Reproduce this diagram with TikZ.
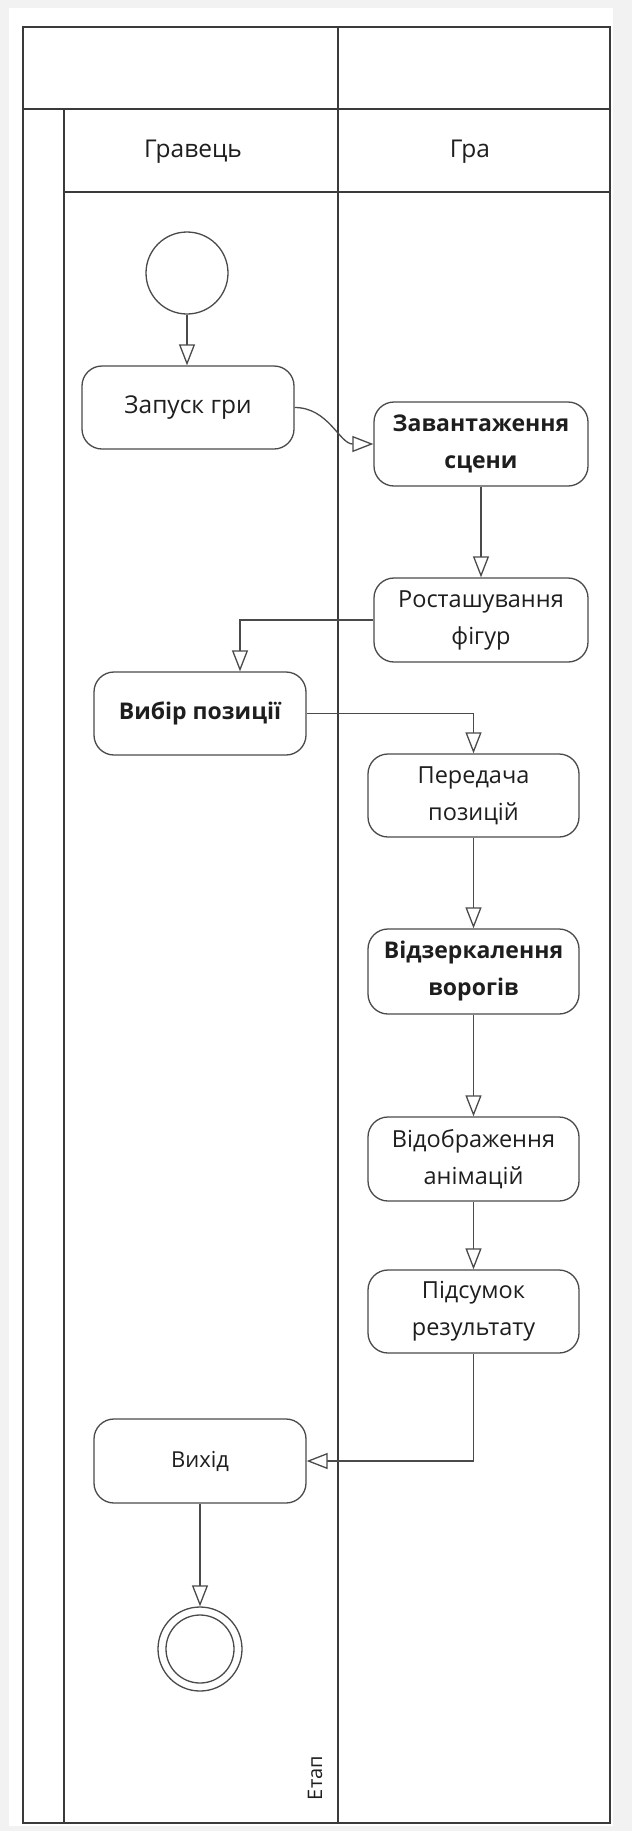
\documentclass[tikz,border=0pt]{standalone}
\usepackage{fontspec}
\setmainfont{Open Sans}
\usetikzlibrary{arrows.meta,calc}
\definecolor{bggray}{HTML}{F2F2F2}
\definecolor{linec}{HTML}{3A3A3A}
\definecolor{boxc}{HTML}{4A4A4A}
\definecolor{txt}{HTML}{1E1E1E}
\newcommand{\fsStart}{\fontsize{24.5}{37}\selectfont}
\newcommand{\fsExit}{\fontsize{22}{37}\selectfont}
\newcommand{\fsBig}{\fontsize{23.5}{37}\selectfont}
\newcommand{\fsBold}{\fontsize{23}{37}\selectfont\bfseries}
\begin{document}
\begin{tikzpicture}[x=1pt,y=-1pt,
  lane/.style={draw=linec, line width=1.4pt},
  act/.style={draw=boxc, line width=1.3pt, rounded corners=20pt, fill=white,
    minimum width=212pt, minimum height=83pt, inner sep=0pt, align=center,
    text=txt, font=\fsBig},
  flow/.style={draw=boxc, line width=1.3pt, -{Triangle[length=21pt,width=16pt,fill=white]}},
  lbl/.style={text=txt, font=\fontsize{24.5}{28}\selectfont, inner sep=0pt},
  evt/.style={circle, draw=boxc, line width=1.3pt, fill=white, inner sep=0pt}
]
\useasboundingbox (0,0) rectangle (632,1831);
\fill[bggray] (0,0) rectangle (632,1831);
\fill[white] (9,8) rectangle (613,1826);
% swimlane frame
\draw[lane] (23,27) rectangle (610,1823);
\draw[lane] (338,27) -- (338,1823);
\draw[lane] (23,109) -- (610,109);
\draw[lane] (64,109) -- (64,1823);
\draw[lane, line width=2pt] (64,192) -- (610,192);
\node[lbl] (lhA) at (193,152) {Гравець};
\node[lbl] (lhB) at (470,152) {Гра};
\node[lbl, font=\fontsize{20}{24}\selectfont, rotate=90] (etap) at (315,1778) {Етап};
% events
\node[evt, minimum size=82pt] (start) at (187,273) {};
\node[evt, minimum size=84pt] (end) at (200,1649) {};
\node[evt, minimum size=68pt] (endin) at (end) {};
% activities
\node[act, font=\fsStart] (zap) at (188,407.5) {Запуск гри};
\node[act, font=\fsBold, minimum width=214pt, minimum height=84pt] (zav) at (481,444) {Завантаження\\сцени};
\node[act, minimum width=214pt, minimum height=84pt] (ros) at (481,620) {Росташування\\фігур};
\node[act, font=\fsBold] (vyb) at (200,713.5) {Вибір позиції};
\node[act, minimum width=211pt] (per) at (473.5,795.5) {Передача\\позицій};
\node[act, font=\fsBold, minimum width=211pt, minimum height=85pt] (vidz) at (473.5,971.5) {Відзеркалення\\ворогів};
\node[act, minimum width=211pt, minimum height=84pt] (vidob) at (473.5,1159) {Відображення\\анімацій};
\node[act, minimum width=211pt] (pids) at (473.5,1311.5) {Підсумок\\результату};
\node[act, font=\fsExit, minimum height=84pt] (vyh) at (200,1461) {Вихід};
% flows
\draw[flow] (start) -- (start |- zap.north);
\draw[flow] (zap.east) to[out=0,in=180] (zav.west);
\draw[flow] (zav) -- (zav |- ros.north);
\draw[flow] (ros.west) -| ([xshift=40pt]vyb.north);
\draw[flow] (vyb.east) -| (per.north);
\draw[flow] (per) -- (vidz);
\draw[flow] (vidz) -- (vidob);
\draw[flow] (vidob) -- (pids);
\draw[flow] (pids.south) |- (vyh.east);
\draw[flow] (vyh) -- (end);
\end{tikzpicture}
\end{document}
